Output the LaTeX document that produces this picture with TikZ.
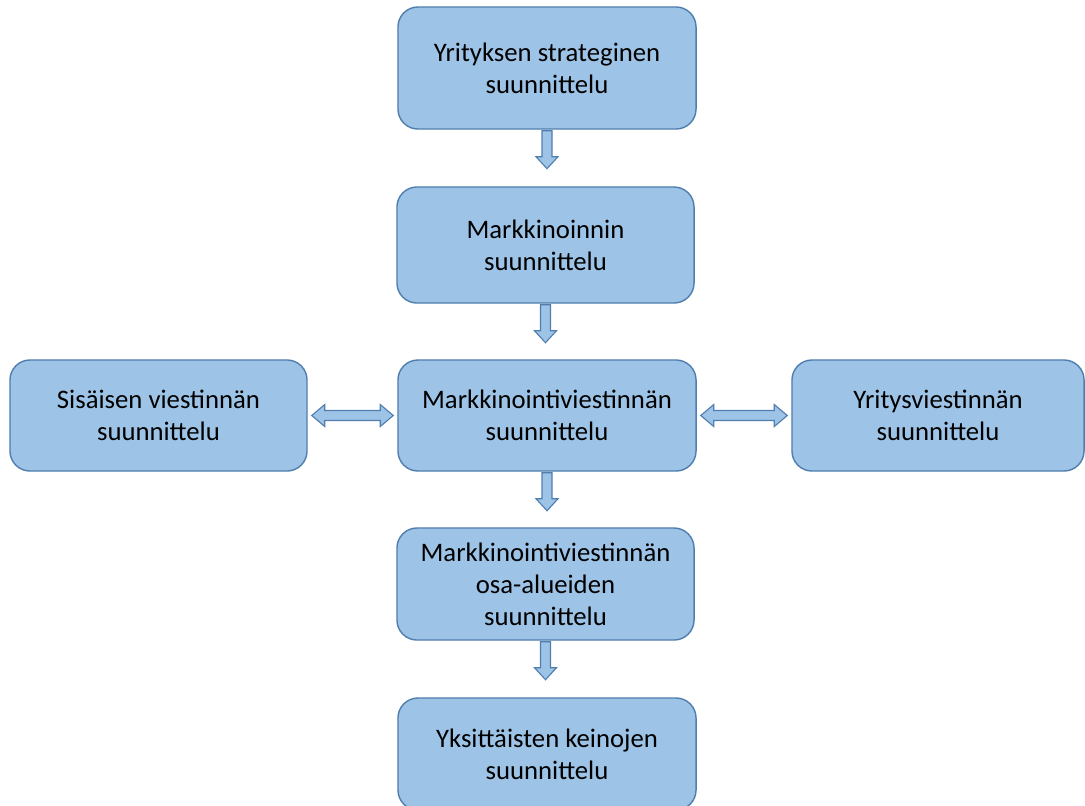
\documentclass[tikz,border=0pt]{standalone}
\usepackage{fontspec}
\setmainfont{Carlito}
\usetikzlibrary{calc}
\definecolor{boxfill}{RGB}{157,195,230}
\definecolor{boxline}{RGB}{80,126,174}
\tikzset{every picture/.style={line width=1pt},
plan/.style={rectangle,rounded corners=0.5cm,draw=boxline,fill=boxfill,align=center,font=\fontsize{19}{22.8}\selectfont},
blockarrow/.style={draw=boxline,fill=boxfill,line width=0.8pt,line join=miter}}

\begin{document}
\begin{tikzpicture}[x=0.025cm,y=-0.025cm]
\useasboundingbox (0,0) rectangle (1085,805);
\node (strat) at (547,68) [plan,minimum width=7.45cm,minimum height=3.05cm] {Yrityksen strateginen\\suunnittelu};
\node (mark) at (545.5,245) [plan,minimum width=7.425cm,minimum height=2.9cm] {Markkinoinnin\\suunnittelu};
\node (mviest) at (547,415.5) [plan,minimum width=7.45cm,minimum height=2.775cm] {Markkinointiviestinnän\\suunnittelu};
\node (sis) at (158.5,415.5) [plan,minimum width=7.425cm,minimum height=2.775cm] {Sisäisen viestinnän\\suunnittelu};
\node (yrit) at (938,415.5) [plan,minimum width=7.3cm,minimum height=2.775cm] {Yritysviestinnän\\suunnittelu};
\node (osa) at (545.5,584) [plan,minimum width=7.425cm,minimum height=2.8cm] {Markkinointiviestinnän\\osa-alueiden\\suunnittelu};
\node (yks) at (547,754) [plan,minimum width=7.45cm,minimum height=2.8cm] {Yksittäisten keinojen\\suunnittelu};
% block arrows downwards
\foreach \a in {strat,mark,mviest,osa} {
\draw[blockarrow] ($(\a.south)+(-5,1)$) -- ++(10,0) -- ++(0,26) -- ++(6,0) -- ($(\a.south)+(0,39)$) -- ++(-11,-12) -- ++(6,0) -- cycle;
}
% double arrows sideways
\foreach \a/\b in {sis/mviest,mviest/yrit} {
\draw[blockarrow] ($(\a.east)+(4,0)$) -- ++(13,-11) -- ++(0,6) -- ($(\b.west)+(-17,-5)$) -- ++(0,-6) -- ($(\b.west)+(-4,0)$) -- ++(-13,11) -- ++(0,-6) -- ($(\a.east)+(17,5)$) -- ++(0,6) -- cycle;
}
\end{tikzpicture}
\end{document}
